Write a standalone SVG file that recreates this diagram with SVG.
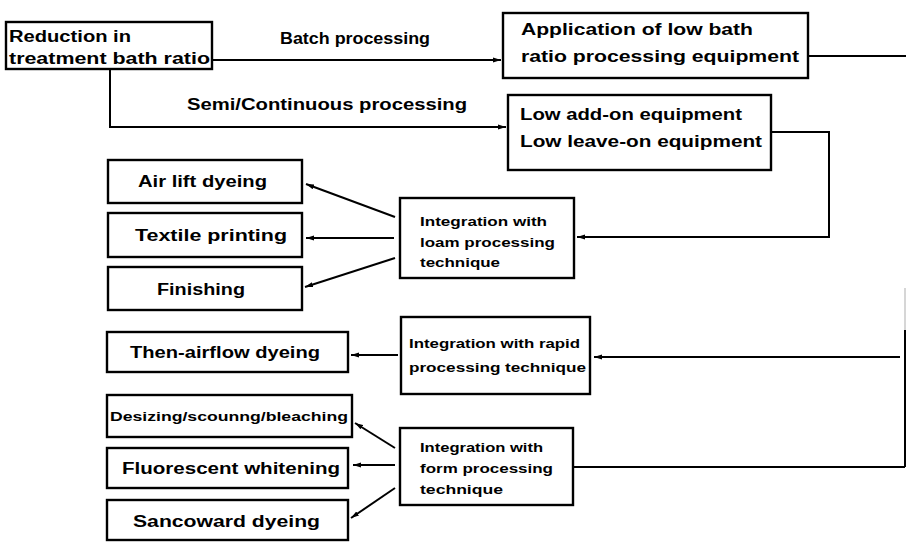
<svg xmlns="http://www.w3.org/2000/svg" width="906" height="543" viewBox="0 0 906 543">
  <defs>
    <marker id="arrow" markerUnits="userSpaceOnUse" markerWidth="10" markerHeight="8" refX="8" refY="4" orient="auto">
      <path d="M0,1.5 L8,4 L0,6.5 Z" fill="#000"/>
    </marker>
    <style>
      .box { fill: #fff; stroke: #000; stroke-width: 2.4; }
      .lbl { font-family: "Liberation Sans", Arial, sans-serif; font-size: 16px; font-weight: bold; fill: #000; }
      .sm { font-family: "Liberation Sans", Arial, sans-serif; font-size: 12px; font-weight: bold; fill: #000; }
      .con { fill: none; stroke: #000; stroke-width: 2; }
      .faint { fill: none; stroke: #c8c8c8; stroke-width: 1.5; }
      .arr { marker-end: url(#arrow); }
    </style>
  </defs>
  <rect width="906" height="543" fill="#fff"/>

  <!-- connectors and their labels -->
  <g id="connectors">
    <path class="con arr" d="M212,60 L501,60"/>
    <path class="con arr" d="M110,69 L110,127 L506,127"/>
    <path class="con" d="M808,56 L906,56"/>
    <path class="con arr" d="M771,132 L829,132 L829,237 L577,237"/>
    <path class="con arr" d="M395,217 L306,184"/>
    <path class="con arr" d="M394,238 L306,238"/>
    <path class="con arr" d="M395,258 L305,287"/>
    <path class="faint" d="M905,288 L905,330"/>
    <path class="con" d="M905,330 L905,467"/>
    <path class="con arr" d="M900,357 L594,357"/>
    <path class="con arr" d="M398,355 L351,355"/>
    <path class="con" d="M573,467 L905,467"/>
    <path class="con arr" d="M395,448 L355,423"/>
    <path class="con arr" d="M395,465 L353,465"/>
    <path class="con arr" d="M395,488 L351,518"/>
    <text class="lbl" x="280" y="44" textLength="150" lengthAdjust="spacingAndGlyphs">Batch processing</text>
    <text class="lbl" x="187" y="110" textLength="280" lengthAdjust="spacingAndGlyphs">Semi/Continuous processing</text>
  </g>

  <g id="reduction">
    <rect class="box" x="6" y="22" width="206" height="47"/>
    <text class="lbl" x="9" y="42" textLength="122" lengthAdjust="spacingAndGlyphs">Reduction in</text>
    <text class="lbl" x="9" y="64" textLength="201" lengthAdjust="spacingAndGlyphs">treatment bath ratio</text>
  </g>

  <g id="application">
    <rect class="box" x="503" y="13" width="305" height="65"/>
    <text class="lbl" x="521" y="35" textLength="232" lengthAdjust="spacingAndGlyphs">Application of low bath</text>
    <text class="lbl" x="521" y="62" textLength="278" lengthAdjust="spacingAndGlyphs">ratio processing equipment</text>
  </g>

  <g id="low-addon">
    <rect class="box" x="508" y="95" width="263" height="75"/>
    <text class="lbl" x="520" y="120" textLength="222" lengthAdjust="spacingAndGlyphs">Low add-on equipment</text>
    <text class="lbl" x="520" y="147" textLength="242" lengthAdjust="spacingAndGlyphs">Low leave-on equipment</text>
  </g>

  <g id="air-lift">
    <rect class="box" x="108" y="160" width="194" height="43"/>
    <text class="lbl" x="138" y="187" textLength="129" lengthAdjust="spacingAndGlyphs">Air lift dyeing</text>
  </g>

  <g id="textile-printing">
    <rect class="box" x="108" y="213" width="194" height="44"/>
    <text class="lbl" x="135" y="241" textLength="152" lengthAdjust="spacingAndGlyphs">Textile printing</text>
  </g>

  <g id="finishing">
    <rect class="box" x="108" y="267" width="194" height="43"/>
    <text class="lbl" x="157" y="295" textLength="88" lengthAdjust="spacingAndGlyphs">Finishing</text>
  </g>

  <g id="foam-integration">
    <rect class="box" x="400" y="198" width="174" height="80"/>
    <text class="sm" x="420" y="226" textLength="127" lengthAdjust="spacingAndGlyphs">Integration with</text>
    <text class="sm" x="420" y="247" textLength="135" lengthAdjust="spacingAndGlyphs">loam processing</text>
    <text class="sm" x="420" y="267" textLength="80" lengthAdjust="spacingAndGlyphs">technique</text>
  </g>

  <g id="then-airflow">
    <rect class="box" x="107" y="332" width="241" height="40"/>
    <text class="lbl" x="130" y="358" textLength="190" lengthAdjust="spacingAndGlyphs">Then-airflow dyeing</text>
  </g>

  <g id="rapid-integration">
    <rect class="box" x="401" y="317" width="189" height="77"/>
    <text class="sm" x="409" y="348" textLength="171" lengthAdjust="spacingAndGlyphs">Integration with rapid</text>
    <text class="sm" x="409" y="372" textLength="177" lengthAdjust="spacingAndGlyphs">processing technique</text>
  </g>

  <g id="desizing">
    <rect class="box" x="107" y="395" width="245" height="42"/>
    <text class="sm" x="110" y="421" font-size="13" textLength="238" lengthAdjust="spacingAndGlyphs">Desizing/scounng/bleaching</text>
  </g>

  <g id="fluorescent">
    <rect class="box" x="107" y="448" width="241" height="40"/>
    <text class="lbl" x="122" y="474" textLength="218" lengthAdjust="spacingAndGlyphs">Fluorescent whitening</text>
  </g>

  <g id="sancoward">
    <rect class="box" x="107" y="500" width="241" height="40"/>
    <text class="lbl" x="133" y="527" textLength="187" lengthAdjust="spacingAndGlyphs">Sancoward dyeing</text>
  </g>

  <g id="form-integration">
    <rect class="box" x="400" y="428" width="173" height="77"/>
    <text class="sm" x="420" y="452" textLength="123" lengthAdjust="spacingAndGlyphs">Integration with</text>
    <text class="sm" x="420" y="473" textLength="133" lengthAdjust="spacingAndGlyphs">form processing</text>
    <text class="sm" x="420" y="494" textLength="83" lengthAdjust="spacingAndGlyphs">technique</text>
  </g>
</svg>
